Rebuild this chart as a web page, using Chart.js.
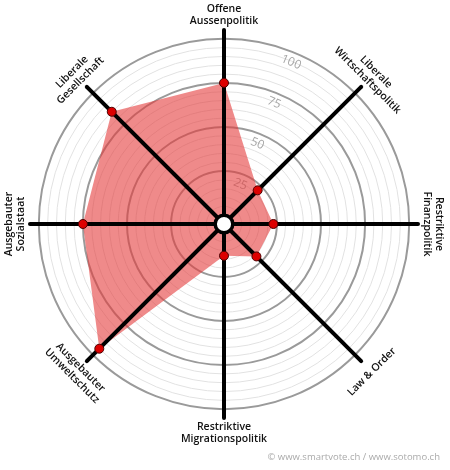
<!DOCTYPE html>
<html>
<head>
<meta charset="utf-8">
<script src="https://cdn.jsdelivr.net/npm/chart.js@4"></script>
<style>
  body { margin: 0; background: #fff; }
</style>
</head>
<body>
<canvas id="spider" width="450" height="470"></canvas>
<script>
// smartspider axes, clockwise from top
const categories = [
  ['Offene', 'Aussenpolitik'],
  ['Liberale', 'Wirtschaftspolitik'],
  ['Restriktive', 'Finanzpolitik'],
  ['Law & Order'],
  ['Restriktive', 'Migrationspolitik'],
  ['Ausgebauter', 'Umweltschutz'],
  ['Ausgebauter', 'Sozialstaat'],
  ['Liberale', 'Gesellschaft']
];
const values = [75, 22, 23, 21, 13, 95, 75, 85];
const tickLabels = [25, 50, 75, 100];

const labelFont = '600 10.5px "Open Sans"';

const spiderDeco = {
  id: 'spiderDeco',
  beforeDatasetsDraw(chart) {
    // grey scale numbers, tilted along the rings
    const r = chart.scales.r;
    const ctx = chart.ctx;
    const a = r.getIndexAngle(0) + Math.PI / 8;
    ctx.save();
    ctx.fillStyle = '#a5a5a5';
    ctx.font = '12px "Open Sans"';
    ctx.textAlign = 'center';
    ctx.textBaseline = 'middle';
    tickLabels.forEach(v => {
      const d = r.getDistanceFromCenterForValue(v) - 10;
      const x = r.xCenter + Math.sin(a) * d;
      const y = r.yCenter - Math.cos(a) * d;
      ctx.save();
      ctx.translate(x, y);
      ctx.rotate(a);
      ctx.fillText(String(v), 0, 0);
      ctx.restore();
    });
    ctx.restore();
  },
  afterDatasetDraw(chart, args) {
    if (args.index !== 1) return;
    const r = chart.scales.r;
    const ctx = chart.ctx;
    ctx.save();
    ctx.strokeStyle = '#000';
    ctx.lineWidth = 4;
    ctx.lineCap = 'round';
    const end = r.getDistanceFromCenterForValue(r.max);
    for (let i = 0; i < categories.length; i++) {
      const p = r.getPointPosition(i, end);
      ctx.beginPath();
      ctx.moveTo(r.xCenter, r.yCenter);
      ctx.lineTo(p.x, p.y);
      ctx.stroke();
    }
    // white hub
    ctx.beginPath();
    ctx.arc(r.xCenter, r.yCenter, r.getDistanceFromCenterForValue(0), 0, 2 * Math.PI);
    ctx.fillStyle = '#fff';
    ctx.fill();
    ctx.lineWidth = 3.5;
    ctx.stroke();
    ctx.restore();
  },
  afterDraw(chart) {
    const r = chart.scales.r;
    const ctx = chart.ctx;
    ctx.save();
    ctx.fillStyle = '#111';
    ctx.font = labelFont;
    ctx.textAlign = 'center';
    ctx.textBaseline = 'middle';
    const dist = r.getDistanceFromCenterForValue(r.max) + 15;
    categories.forEach((lines, i) => {
      const th = r.getIndexAngle(i);
      let rot = th;
      if (th > Math.PI / 2 + 0.01 && th < 3 * Math.PI / 2 - 0.01) rot -= Math.PI;
      const x = r.xCenter + Math.sin(th) * dist;
      const y = r.yCenter - Math.cos(th) * dist;
      ctx.save();
      ctx.translate(x, y);
      ctx.rotate(rot);
      const lh = 12;
      lines.forEach((t, k) => {
        ctx.fillText(t, 0, (k - (lines.length - 1) / 2) * lh);
      });
      ctx.restore();
    });
    ctx.fillStyle = '#aaa';
    ctx.font = '9.5px "Open Sans"';
    ctx.textAlign = 'right';
    ctx.fillText('\u00A9 www.smartvote.ch / www.sotomo.ch', 440, 457);
    ctx.restore();
  }
};

new Chart(document.getElementById('spider'), {
  type: 'radar',
  data: {
    labels: categories,
    datasets: [{
      data: values,
      showLine: false,
      fill: false,
      pointRadius: 4.5,
      pointBackgroundColor: '#dd0000',
      pointBorderColor: '#4a0000',
      pointBorderWidth: 1
    }, {
      data: values,
      fill: 'start',
      backgroundColor: 'rgba(228, 60, 60, 0.6)',
      borderWidth: 0,
      pointRadius: 0
    }]
  },
  options: {
    responsive: false,
    animation: false,
    layout: { padding: { left: 30, right: 32, top: 30, bottom: 52 } },
    plugins: { legend: { display: false }, tooltip: { enabled: false } },
    scales: {
      r: {
        min: -5,
        max: 105,
        ticks: { display: false, stepSize: 5 },
        angleLines: { display: false },
        pointLabels: { display: false },
        grid: {
          circular: true,
          color: c => {
            const v = c.tick.value;
            if (v <= 0 || v > 100) return 'rgba(0,0,0,0)';
            return v % 25 === 0 ? '#9a9a9a' : '#e2e2e2';
          },
          lineWidth: c => (c.tick.value % 25 === 0 ? 2 : 1)
        }
      }
    }
  },
  plugins: [spiderDeco]
});
</script>
</body>
</html>
